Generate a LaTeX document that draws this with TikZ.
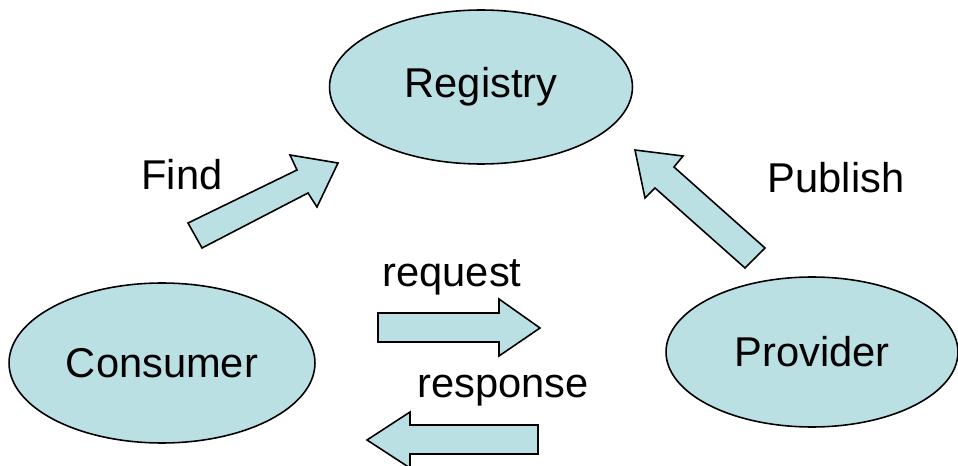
\documentclass[tikz,border=0pt]{standalone}
\usepackage{fontspec}
\setmainfont{Liberation Sans}
\definecolor{paleteal}{RGB}{187,224,227}
\tikzset{
    blob/.style={ellipse,draw,fill=paleteal,line width=.9pt,inner sep=0pt},
    blockarrow/.style={draw,fill=paleteal,line width=.9pt,line join=miter},
    tag/.style={anchor=base,inner sep=0pt}
}
\usetikzlibrary{shapes.geometric}
\begin{document}
\begin{tikzpicture}[x=.02cm,y=-.02cm,font=\fontsize{23.7}{28}\selectfont]
                \useasboundingbox (0,0) rectangle (958,466);
                \node[blob,minimum width=6.06cm,minimum height=3.08cm] (registry) at (481,87) {Registry};
                \node[blob,minimum width=6.12cm,minimum height=3.2cm] (consumer) at (162,363) {Consumer};
                \node[blob,minimum width=5.84cm,minimum height=3cm] (provider) at (812,352) {Provider};
                \draw[blockarrow] (188,223) -- (297,170) -- (290,155) -- (338,163) -- (317,207) -- (308,193) -- (202,248) -- cycle;
                \draw[blockarrow] (635,150) -- (683,156) -- (674,167) -- (765,248) -- (745,268) -- (655,188) -- (645,198) -- cycle;
                \draw[blockarrow] (378,313) -- (499,313) -- (499,299) -- (540,328) -- (499,356) -- (499,342) -- (378,342) -- cycle;
                \draw[blockarrow] (538,425) -- (410,425) -- (410,412) -- (367,440) -- (410,468) -- (410,454) -- (538,454) -- cycle;
                \node[tag] (find) at (182,190) {Find};
                \node[tag] (publish) at (836,193) {Publish};
                \node[tag] (request) at (452,287) {request};
                \node[tag] (response) at (503,398) {response};
            \end{tikzpicture}
\end{document}
